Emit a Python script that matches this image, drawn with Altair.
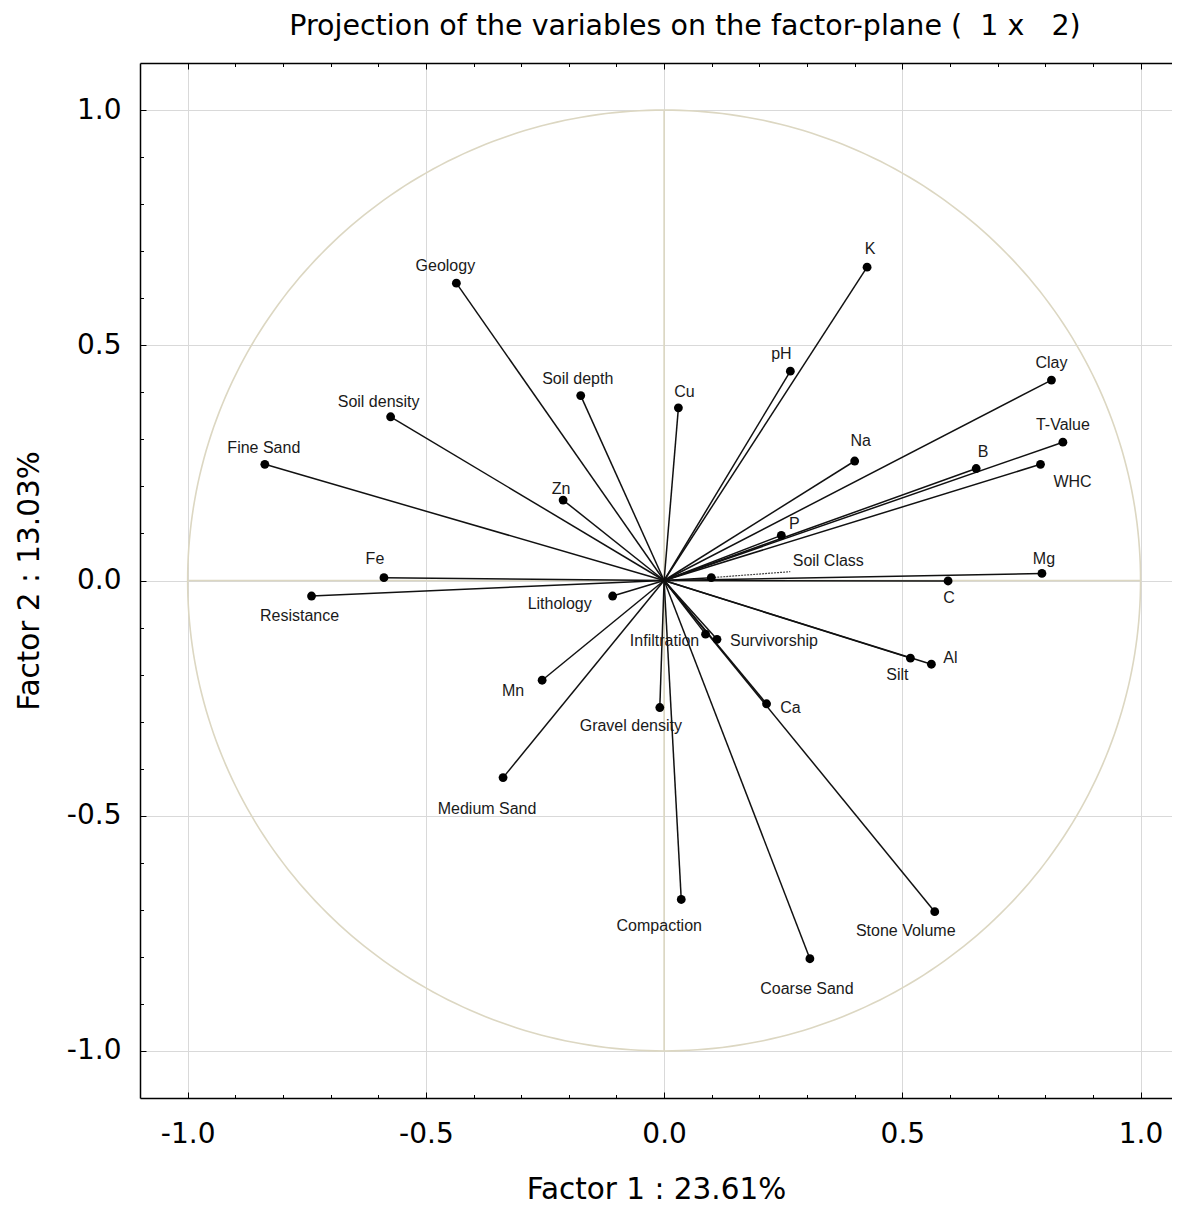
import altair as alt
import pandas as pd

# ---------------- data ----------------
names = ["K", "Geology", "pH", "Clay", "Soil depth", "Cu", "Soil density", "T-Value",
         "Na", "B", "WHC", "Fine Sand", "Zn", "P", "Soil Class", "Fe", "Mg", "C",
         "Resistance", "Lithology", "Infiltration", "Survivorship", "Silt", "Al", "Mn",
         "Ca", "Gravel density", "Medium Sand", "Compaction", "Stone Volume", "Coarse Sand"]
factor1 = [0.426, -0.436, 0.265, 0.813, -0.175, 0.030, -0.574, 0.837,
           0.400, 0.655, 0.790, -0.838, -0.212, 0.246, 0.099, -0.588, 0.793, 0.596,
           -0.740, -0.108, 0.087, 0.111, 0.517, 0.561, -0.256,
           0.215, -0.009, -0.338, 0.036, 0.568, 0.306]
factor2 = [0.666, 0.632, 0.445, 0.426, 0.393, 0.367, 0.348, 0.294,
           0.254, 0.238, 0.247, 0.247, 0.171, 0.096, 0.006, 0.006, 0.015, -0.001,
           -0.033, -0.033, -0.114, -0.125, -0.165, -0.178, -0.212,
           -0.262, -0.270, -0.419, -0.678, -0.704, -0.804]
# label nudges (pixels, style only)
label_dx = [3, -11, -9, 0, -3, 6, -12, 0,
            6, 7, 32, -1, -2, 13, 117, -9, 2, 1,
            -12, -53, -41, 57, -13, 19, -29,
            24, -29, -16, -22, -29, -3]
label_dy = [-18, -17, -17, -17, -17, -16, -15, -17,
            -20, -17, 18, -16, -11, -11, -17, -19, -14, 17,
            20, 8, 7, 2, 17, -6, 11,
            4, 18, 31, 27, 19, 30]

major_ticks = [-1.0, -0.5, 0.0, 0.5, 1.0]
minor_ticks = [round(-1.0 + 0.1 * i, 1) for i in range(21)]

NB = "\u00a0"
title_text = "Projection of the variables on the factor-plane (" + NB * 2 + "1 x" + NB * 3 + "2)"
x_title = "Factor 1 : 23.61%"
y_title = "Factor 2 : 13.03%"

# ---------------- layout / style ----------------
W, H = 1032, 1035
XMIN, XMAX = -1.1, 1.066
YMIN, YMAX = -1.1, 1.1
KX = W / (XMAX - XMIN)
KY = H / (YMAX - YMIN)
BEIGE = "#dcd7c2"
GRID = "#d9d9d9"
AXFONT = "DejaVu Sans"

df = pd.DataFrame({"name": names, "f1": factor1, "f2": factor2,
                   "dx": label_dx, "dy": label_dy})
cross = pd.DataFrame({"lo": [-1.0], "hi": [1.0], "mid": [0.0]})

xs = alt.Scale(domain=[XMIN, XMAX], nice=False, zero=False)
ys = alt.Scale(domain=[YMIN, YMAX], nice=False, zero=False)

lab_expr = "replace(format(datum.value, '.1f'), '\u2212', '-')"
tick_size = {"condition": {"test": "abs(datum.value*2 - round(datum.value*2)) < 0.01",
                           "value": 6}, "value": 3.5}

main_x = alt.Axis(orient="bottom", values=major_ticks, labelExpr=lab_expr, grid=True,
                  gridColor=GRID, gridWidth=1, ticks=False, domain=True,
                  domainColor="black", domainWidth=1.5, labelFont=AXFONT,
                  labelFontSize=28, labelColor="black", labelPadding=22,
                  labelFlush=False, labelOverlap=False, title=x_title,
                  titleFont=AXFONT, titleFontSize=29.5, titleFontWeight="normal",
                  titleColor="black", titlePadding=27)
main_y = alt.Axis(orient="left", values=major_ticks, labelExpr=lab_expr, grid=True,
                  gridColor=GRID, gridWidth=1, ticks=False, domain=True,
                  domainColor="black", domainWidth=1.5, labelFont=AXFONT,
                  labelFontSize=28, labelColor="black", labelPadding=19,
                  labelFlush=False, labelOverlap=False, title=y_title,
                  titleFont=AXFONT, titleFontSize=29.5, titleFontWeight="normal",
                  titleColor="black", titlePadding=22)
inner_bottom = alt.Axis(orient="top", offset=-H, values=minor_ticks, labels=False,
                        domain=False, grid=False, ticks=True, tickColor="black",
                        tickWidth=1, tickSize=tick_size, title=None)
inner_top = alt.Axis(orient="bottom", offset=-H, values=minor_ticks, labels=False,
                     domain=True, domainColor="black", domainWidth=1.5, grid=False,
                     ticks=True, tickColor="black", tickWidth=1, tickSize=tick_size,
                     title=None)
inner_left = alt.Axis(orient="right", offset=-W, values=minor_ticks, labels=False,
                      domain=False, grid=False, ticks=True, tickColor="black",
                      tickWidth=1, tickSize=tick_size, title=None)

# unit circle
circle = alt.Chart(alt.sequence(0, 361, 1, as_="deg")).transform_calculate(
    cx="cos(datum.deg * PI / 180)", cy="sin(datum.deg * PI / 180)"
).mark_line(color=BEIGE, strokeWidth=1.6).encode(
    x=alt.X("cx:Q", scale=xs, axis=main_x),
    y=alt.Y("cy:Q", scale=ys, axis=main_y),
    order="deg:Q",
)

hline = alt.Chart(cross).mark_rule(color=BEIGE, strokeWidth=1.6).encode(
    x=alt.X("lo:Q", scale=xs, axis=None), x2="hi:Q",
    y=alt.Y("mid:Q", scale=ys, axis=None),
)
vline = alt.Chart(cross).mark_rule(color=BEIGE, strokeWidth=1.6).encode(
    y=alt.Y("lo:Q", scale=ys, axis=None), y2="hi:Q",
    x=alt.X("mid:Q", scale=xs, axis=None),
)

vectors = alt.Chart(df).mark_rule(color="#111111", strokeWidth=1.5).encode(
    x=alt.X("f1:Q", scale=xs, axis=None),
    y=alt.Y("f2:Q", scale=ys, axis=None),
    x2=alt.datum(0),
    y2=alt.datum(0),
)

leader = alt.Chart(df).transform_filter("datum.name == 'Soil Class'").mark_rule(
    color="#444444", strokeDash=[2, 1], strokeWidth=1.2, x2Offset=79, y2Offset=-6
).encode(
    x=alt.X("f1:Q", scale=xs, axis=None),
    y=alt.Y("f2:Q", scale=ys, axis=None),
    x2="f1:Q", y2="f2:Q",
)

points = alt.Chart(df).mark_circle(size=78, color="black", opacity=1).encode(
    x=alt.X("f1:Q", scale=xs, axis=inner_bottom),
    y=alt.Y("f2:Q", scale=ys, axis=inner_left),
)

labels = alt.Chart(df).transform_calculate(
    lx=f"datum.f1 + datum.dx / {KX}", ly=f"datum.f2 - datum.dy / {KY}"
).mark_text(font="Liberation Sans", fontSize=16, color="#1a1a1a",
            align="center", baseline="middle").encode(
    x=alt.X("lx:Q", scale=xs, axis=inner_top),
    y=alt.Y("ly:Q", scale=ys, axis=None),
    text="name:N",
)

chart = alt.layer(circle, hline, vline, vectors, leader, points, labels).resolve_axis(
    x="independent", y="independent"
).properties(
    width=W, height=H,
    padding={"left": 6, "top": 4, "right": 0, "bottom": 0},
    title=alt.TitleParams(title_text, font=AXFONT, fontSize=28.5, fontWeight="normal",
                          color="black", anchor="middle", dx=29, offset=22),
).configure_view(stroke="transparent")

chart.save("out.html", embed_options={"renderer": "svg", "actions": False})
